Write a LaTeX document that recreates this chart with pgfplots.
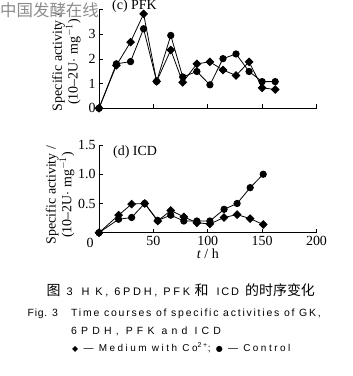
\documentclass[border=0pt]{standalone}
\usepackage{fontspec}
\setmainfont{Liberation Serif}
\newfontfamily\cjk{Noto Sans CJK SC}
\newfontfamily\capA[LetterSpace=16]{Liberation Sans}
\newfontfamily\capAA[LetterSpace=25]{Liberation Sans}
\newfontfamily\capFig[LetterSpace=7]{Liberation Sans}
\newfontfamily\capB[LetterSpace=17]{Liberation Sans}
\newfontfamily\capC[LetterSpace=40]{Liberation Sans}
\newfontfamily\capD[LetterSpace=25]{Liberation Sans}
\newfontfamily\sym{DejaVu Sans}
\usepackage{pgfplots}
\usepackage{pgfplotstable}
\pgfplotsset{compat=1.18}

\pgfplotstableread{
t d c
0 0 0
16 1.74 1.80
29 2.68 1.89
41 3.82 3.22
53 1.09 1.09
66 2.36 2.95
77 1.05 1.27
90 1.80 1.49
102 1.88 0.95
114 1.55 2.01
126 1.33 2.20
138 1.88 1.49
150 0.83 1.08
162 0.76 1.08
}\pfk

\pgfplotstableread{
t d c
0 0 0
18 0.30 0.23
30 0.49 0.26
42 0.50 0.50
54 0.20 0.21
66 0.38 0.30
78 0.27 0.20
90 0.17 0.20
102 0.15 0.20
115 0.26 0.40
127 0.31 0.50
139 0.24 0.77
151 0.14 1.00
}\icd

\pgfplotsset{
  myaxis/.style={
    scale only axis, width=217.5bp, axis lines*=left,
    xmin=0, xmax=200, ymin=0,
    tick align=inside, major tick length=4bp,
    tick style={black, line width=0.6pt},
    axis line style={black, line width=0.6pt},
    /pgf/number format/assume math mode=true,
    tick label style={font=\fontsize{14}{14}\selectfont},
    label style={font=\fontsize{14}{14.5}\selectfont},
    clip=false,
  },
  dia/.style={black, line width=0.8pt, mark=square*, mark size=2.7bp, mark options={rotate=45, solid}},
  cir/.style={black, line width=0.8pt, mark=*, mark size=3.2bp, mark options={solid}},
}

\begin{document}
\begin{tikzpicture}
\useasboundingbox (0,0) rectangle (353bp,376bp);

\begin{axis}[myaxis, at={(99bp,267.7bp)}, anchor=south west,
  height=98.8bp, ymax=4,
  xtick={50,100,150,200}, xticklabels={},
  ytick={0,1,2,3,4}, yticklabels={0,1,2,3,},
  ylabel={Specific activity /\\(10\textendash2U$\cdot$ mg$^{-1}$)},
  ylabel style={align=center, at={(axis description cs:-0.15,0.47)}, anchor=center}]
\addplot[cir] table[x=t, y=c] {\pfk};
\addplot[dia] table[x=t, y=d] {\pfk};
\end{axis}

\begin{axis}[myaxis, at={(99bp,143.3bp)}, anchor=south west,
  height=87.7bp, ymax=1.5,
  xtick={50,100,150,200}, xticklabels={50,100,150,200},
  ytick={0.5,1.0,1.5}, yticklabels={0.5,1.0,1.5},
  xlabel={\textit{t} / h},
  xlabel style={at={(axis description cs:0.5,0)}, anchor=center, yshift=-21bp},
  ylabel={Specific activity /\\(10\textendash2U$\cdot$ mg$^{-1}$)},
  ylabel style={align=center, at={(axis description cs:-0.179,0.43)}, anchor=center}]
\addplot[cir] table[x=t, y=c] {\icd};
\addplot[dia] table[x=t, y=d] {\icd};
\end{axis}

\node[font=\fontsize{14}{14}\selectfont, anchor=center] at (90bp,376bp-242.7bp) {0};
\node[font=\fontsize{14}{14}\selectfont, anchor=base west, inner sep=0pt] at (112bp,366bp) {(c) PFK};
\node[font=\fontsize{14}{14}\selectfont, anchor=base west, inner sep=0pt] at (113bp,220.5bp) {(d) ICD};

\node[font=\cjk\fontsize{16.5}{16.5}\selectfont, text=black!45, anchor=west, inner sep=0pt] at (0bp,376bp-10bp) {中国发酵在线};

\begin{scope}[every node/.style={anchor=base west, inner sep=0pt}]
% caption, line 1
\node[font=\cjk\fontsize{14}{14}\selectfont] at (46.5bp,80bp) {图};
\node[font=\capA\fontsize{11}{11}\selectfont] at (66.5bp,80bp) {3};
\node[font=\capAA\fontsize{11}{11}\selectfont] at (81.5bp,80bp) {H K, 6PDH, PFK};
\node[font=\cjk\fontsize{14}{14}\selectfont] at (194.5bp,80bp) {和};
\node[font=\capA\fontsize{11}{11}\selectfont] at (216.5bp,80bp) {ICD};
\node[font=\cjk\fontsize{14}{14}\selectfont] at (245bp,80bp) {的时序变化};
% line 2
\node[font=\capFig\fontsize{10.5}{10.5}\selectfont] at (27.5bp,59.5bp) {Fig. 3};
\node[font=\capB\fontsize{10.5}{10.5}\selectfont] at (71bp,59.5bp) {Time courses of specific activities of GK,};
% line 3
\node[font=\capC\fontsize{10.5}{10.5}\selectfont] at (71bp,41.5bp) {6PDH, PFK and ICD};
% line 4
\node[font=\capD\fontsize{10}{10}\selectfont] at (72bp,25bp) {{\sym\fontsize{8}{8}\selectfont ◆} — Medium with Co\textsuperscript{2+}; {\sym\fontsize{8}{8}\selectfont ●} — Control};
\end{scope}
\end{tikzpicture}
\end{document}
